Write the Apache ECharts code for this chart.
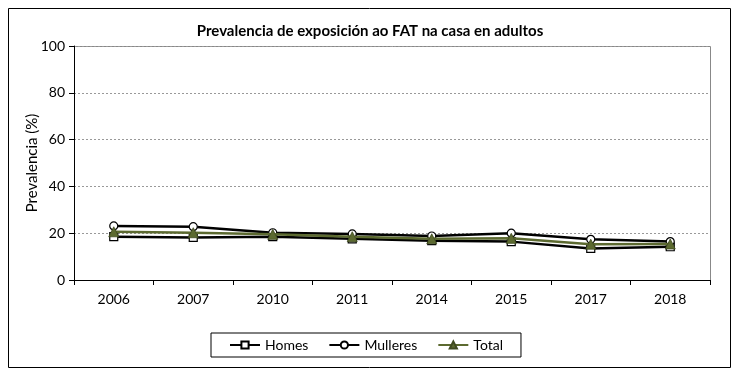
<!DOCTYPE html>
<html><head><meta charset="utf-8">
<script src="https://cdn.jsdelivr.net/npm/echarts@6/dist/echarts.min.js"></script>
<style>html,body{margin:0;padding:0;background:#fff}#c{width:740px;height:379px}</style>
</head><body><div id="c"></div>
<script>
const categories = ['2006','2007','2010','2011','2014','2015','2017','2018'];
const homes    = [18.5, 18.2, 18.5, 17.6, 16.8, 16.4, 13.5, 14.2];
const mulleres = [23.1, 22.8, 20.2, 19.7, 18.8, 20.0, 17.4, 16.4];
const total    = [20.6, 20.2, 19.5, 18.5, 17.6, 17.8, 15.3, 15.4];
const yTicks = [0, 20, 40, 60, 80, 100];
const yName = 'Prevalencia (%)';

const FONT = 'Lato';
const chart = echarts.init(document.getElementById('c'), null, {renderer:'canvas'});
chart.setOption({
  animation:false,
  textStyle:{fontFamily:FONT},
  title:{text:'Prevalencia de exposición ao FAT na casa en adultos', left:'center', top:19,
    textStyle:{fontFamily:FONT, fontSize:15, fontWeight:'bold', color:'#000'}},
  graphic:[
    {type:'rect', shape:{x:8.5,y:8.5,width:722,height:359}, style:{fill:'none', stroke:'#000', lineWidth:1}, z:-1},
    {type:'rect', shape:{x:74.5,y:46.5,width:636,height:234}, style:{fill:'none', stroke:'#888', lineWidth:1}, z:0},
    {type:'text', x:32, y:163, rotation:Math.PI/2,
      style:{text:yName, fontFamily:FONT, fontSize:15, fill:'#000', textAlign:'center', textVerticalAlign:'middle'}}
  ],
  grid:{left:74, right:30, top:46, bottom:99},
  legend:{
    data:['Homes','Mulleres','Total'], left:211, top:333,
    padding:[5,18,5,18], itemGap:20, itemWidth:30, itemHeight:9,
    borderColor:'#000', borderWidth:1,
    textStyle:{fontFamily:FONT, fontSize:14, color:'#000'}
  },
  xAxis:{type:'category', data:categories, boundaryGap:true,
    axisLine:{lineStyle:{color:'#000', width:1}},
    axisTick:{show:true, length:5, inside:false, lineStyle:{color:'#000'}, alignWithLabel:false},
    axisLabel:{fontFamily:FONT, fontSize:14, color:'#000', margin:12}
  },
  yAxis:{type:'value', min:yTicks[0], max:yTicks[yTicks.length-1], interval:20,
    axisLine:{show:true, lineStyle:{color:'#000', width:1}},
    axisTick:{show:true, length:5, lineStyle:{color:'#000'}},
    axisLabel:{fontFamily:FONT, fontSize:14, color:'#000', margin:9},
    splitLine:{show:true, lineStyle:{color:'#999', type:[2,2], width:1}}
  },
  series:[
    {name:'Homes', type:'line', data:homes, symbol:'rect', symbolSize:8,
      lineStyle:{color:'#000', width:2.5}, itemStyle:{color:'#fff', borderColor:'#000', borderWidth:1.2}, z:2},
    {name:'Mulleres', type:'line', data:mulleres, symbol:'circle', symbolSize:8,
      lineStyle:{color:'#000', width:2.5}, itemStyle:{color:'#fff', borderColor:'#000', borderWidth:1.2}, z:3},
    {name:'Total', type:'line', data:total, symbol:'triangle', symbolSize:10,
      lineStyle:{color:'#5c6a30', width:2.5}, itemStyle:{color:'#5c6a30', borderColor:'#3f4a20', borderWidth:0.8}, z:4}
  ]
});
</script></body></html>
